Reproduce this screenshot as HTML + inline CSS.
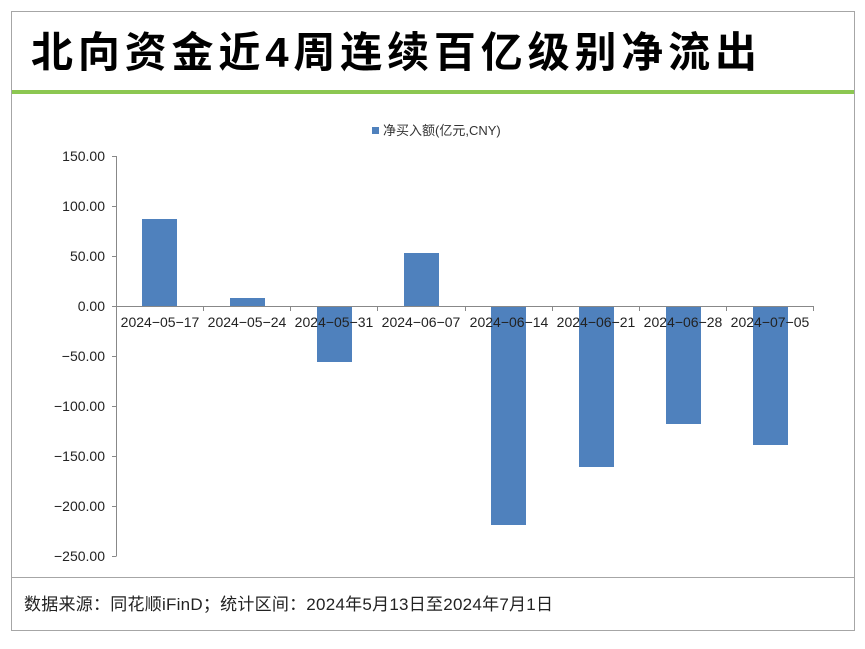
<!DOCTYPE html>
<html><head><meta charset="utf-8"><style>
html,body{margin:0;padding:0;background:#fff;}
svg{display:block;}
text{font-family:"Liberation Sans","Noto Sans CJK SC",sans-serif;}
</style></head><body>
<svg width="865" height="649" viewBox="0 0 865 649" xmlns="http://www.w3.org/2000/svg">
<rect x="11.5" y="11.5" width="843" height="619" fill="#fff" stroke="#a6a6a6" stroke-width="1"/>
<text x="31" y="67" font-size="42" font-weight="bold" fill="#000" textLength="726" lengthAdjust="spacing">北向资金近4周连续百亿级别净流出</text>
<rect x="12" y="90" width="842" height="4" fill="#8cc751"/>
<line x1="12" y1="577.5" x2="854" y2="577.5" stroke="#a6a6a6" stroke-width="1"/>
<text x="24" y="610" font-size="17" fill="#222" textLength="529" lengthAdjust="spacing">数据来源：同花顺iFinD；统计区间：2024年5月13日至2024年7月1日</text>
<!-- legend -->
<rect x="372" y="127" width="7" height="7" fill="#4f81bd"/>
<text x="383" y="135" font-size="13" fill="#333">净买入额(亿元,CNY)</text>
<!-- y axis -->
<g font-size="14" fill="#222" text-anchor="end">
<text x="105" y="161">150.00</text>
<text x="105" y="211">100.00</text>
<text x="105" y="261">50.00</text>
<text x="105" y="311">0.00</text>
<text x="105" y="361">−50.00</text>
<text x="105" y="411">−100.00</text>
<text x="105" y="461">−150.00</text>
<text x="105" y="511">−200.00</text>
<text x="105" y="561">−250.00</text>
</g>
<g stroke="#888" stroke-width="1">
<line x1="116.5" y1="156" x2="116.5" y2="556"/>
<line x1="112" y1="156.5" x2="116.5" y2="156.5"/>
<line x1="112" y1="206.5" x2="116.5" y2="206.5"/>
<line x1="112" y1="256.5" x2="116.5" y2="256.5"/>
<line x1="112" y1="306.5" x2="116.5" y2="306.5"/>
<line x1="112" y1="356.5" x2="116.5" y2="356.5"/>
<line x1="112" y1="406.5" x2="116.5" y2="406.5"/>
<line x1="112" y1="456.5" x2="116.5" y2="456.5"/>
<line x1="112" y1="506.5" x2="116.5" y2="506.5"/>
<line x1="112" y1="556.5" x2="116.5" y2="556.5"/>
</g>
<!-- bars -->
<g fill="#4f81bd">
<rect x="142" y="219" width="35" height="87"/>
<rect x="230" y="298" width="35" height="8"/>
<rect x="317" y="306" width="35" height="56"/>
<rect x="404" y="253" width="35" height="53"/>
<rect x="491" y="306" width="35" height="219"/>
<rect x="579" y="306" width="35" height="161"/>
<rect x="666" y="306" width="35" height="118"/>
<rect x="753" y="306" width="35" height="139"/>
</g>
<!-- x axis -->
<g stroke="#888" stroke-width="1">
<line x1="116" y1="306.5" x2="814" y2="306.5"/>
<line x1="203.5" y1="306" x2="203.5" y2="311"/>
<line x1="290.5" y1="306" x2="290.5" y2="311"/>
<line x1="377.5" y1="306" x2="377.5" y2="311"/>
<line x1="465.5" y1="306" x2="465.5" y2="311"/>
<line x1="552.5" y1="306" x2="552.5" y2="311"/>
<line x1="639.5" y1="306" x2="639.5" y2="311"/>
<line x1="726.5" y1="306" x2="726.5" y2="311"/>
<line x1="813.5" y1="306" x2="813.5" y2="311"/>
</g>
<g font-size="14" fill="#222" text-anchor="middle">
<text x="160" y="327">2024−05−17</text>
<text x="247" y="327">2024−05−24</text>
<text x="334" y="327">2024−05−31</text>
<text x="421" y="327">2024−06−07</text>
<text x="509" y="327">2024−06−14</text>
<text x="596" y="327">2024−06−21</text>
<text x="683" y="327">2024−06−28</text>
<text x="770" y="327">2024−07−05</text>
</g>
</svg>
</body></html>
